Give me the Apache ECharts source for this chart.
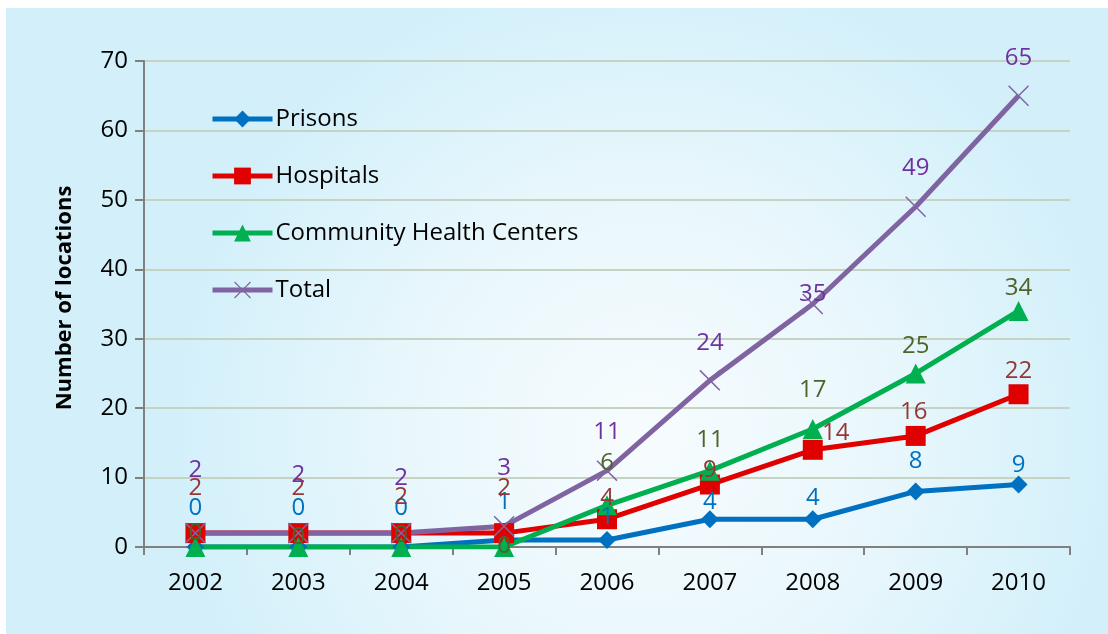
<!DOCTYPE html>
<html>
<head>
<meta charset="utf-8">
<script src="https://cdn.jsdelivr.net/npm/echarts@6/dist/echarts.min.js"></script>
<style>
  html, body { margin: 0; padding: 0; background: #ffffff; }
  #chart { width: 1108px; height: 634px; }
</style>
</head>
<body>
<div id="chart"></div>
<script>
// Deployment locations by year
const years = ['2002', '2003', '2004', '2005', '2006', '2007', '2008', '2009', '2010'];
const prisons = [0, 0, 0, 1, 1, 4, 4, 8, 9];
const hospitals = [2, 2, 2, 2, 4, 9, 14, 16, 22];
const healthCenters = [0, 0, 0, 0, 6, 11, 17, 25, 34];
const totals = [2, 2, 2, 3, 11, 24, 35, 49, 65];
const yTicks = [0, 10, 20, 30, 40, 50, 60, 70];

// Label nudges (pixels above each point), one list per series
const prisonLift = [39, 39, 39, 38, 23, 17, 21, 30, 19];
const hospitalLift = [45, 45, 36, 45, 21, 14, 17, 24, 23];
const centerLift = [14, 10, 12, 1, 42, 30, 39, 27, 23];
const totalLift = [63, 58, 55, 58, 38, 37, 10, 39, 38];
const hospitalShift = [0, 0, 0, 0, 0, 0, 23, -2, 0];

const FONT = '"Open Sans", sans-serif';
const FS = 24;
const crossPath = 'path://M0,1L1,0L10,9L19,0L20,1L11,10L20,19L19,20L10,11L1,20L0,19L9,10Z';

function withLabels(values, lift, shift, color) {
  return values.map((v, i) => ({
    value: v,
    label: {
      show: true,
      position: 'inside',
      offset: [shift ? shift[i] : 0, -lift[i]],
      color: color,
      fontSize: FS,
      fontFamily: FONT
    }
  }));
}

function lineSeries(name, color, symbol, size, labels) {
  return {
    name: name,
    type: 'line',
    data: labels,
    symbol: symbol,
    symbolSize: size,
    lineStyle: { color: color, width: 5 },
    itemStyle: { color: color },
    emphasis: { disabled: true },
    animation: false
  };
}

const chart = echarts.init(document.getElementById('chart'), null, { renderer: 'canvas' });

chart.setOption({
  animation: false,
  graphic: [{
    type: 'rect',
    z: -10,
    shape: { x: 6, y: 8, width: 1102, height: 626 },
    style: {
      fill: {
        type: 'radial', x: 0.58, y: 0.68, r: 0.75,
        colorStops: [
          { offset: 0, color: '#f7fcfe' },
          { offset: 0.5, color: '#e9f7fc' },
          { offset: 1, color: '#d3f0fa' }
        ]
      }
    },
    silent: true
  }],
  grid: { left: 144, right: 38, top: 61, bottom: 87, containLabel: false },
  legend: {
    orient: 'vertical',
    left: 205,
    top: 102,
    itemWidth: 60,
    itemHeight: 21,
    itemGap: 33,
    lineStyle: { width: 5 },
    textStyle: { fontSize: FS, fontFamily: FONT, color: '#000000', padding: [0, 0, 0, -2] },
    data: ['Prisons', 'Hospitals', 'Community Health Centers', 'Total']
  },
  xAxis: {
    type: 'category',
    data: years,
    boundaryGap: true,
    axisLine: { lineStyle: { color: '#808080', width: 2 } },
    axisTick: { show: true, length: 8, lineStyle: { color: '#808080', width: 2 } },
    axisLabel: { fontSize: FS, fontFamily: FONT, color: '#000000', margin: 24 },
    splitLine: { show: false }
  },
  yAxis: {
    type: 'value',
    min: 0,
    max: 70,
    interval: 10,
    name: 'Number of locations',
    nameLocation: 'middle',
    nameGap: 68,
    nameRotate: 90,
    nameTextStyle: { fontSize: 22, fontWeight: 'bold', fontFamily: FONT, color: '#000000', padding: [0, 0, 0, 12] },
    axisLine: { show: true, lineStyle: { color: '#808080', width: 2 } },
    axisTick: { show: true, inside: false, length: 9, lineStyle: { color: '#808080', width: 2 } },
    axisLabel: {
      fontSize: FS, fontFamily: FONT, color: '#000000', margin: 16,
      formatter: v => (yTicks.indexOf(v) >= 0 ? String(v) : '')
    },
    splitLine: { show: true, lineStyle: { color: '#c6d3c2', width: 2 } }
  },
  series: [
    lineSeries('Prisons', '#0070c0', 'diamond', 18,
      withLabels(prisons, prisonLift, null, '#0070c0')),
    lineSeries('Hospitals', '#e00000', 'rect', 20,
      withLabels(hospitals, hospitalLift, hospitalShift, '#953735')),
    lineSeries('Community Health Centers', '#00b050', 'triangle', 20,
      withLabels(healthCenters, centerLift, null, '#4f6228')),
    lineSeries('Total', '#8064a2', crossPath, 21,
      withLabels(totals, totalLift, null, '#7030a0'))
  ]
});
</script>
</body>
</html>
